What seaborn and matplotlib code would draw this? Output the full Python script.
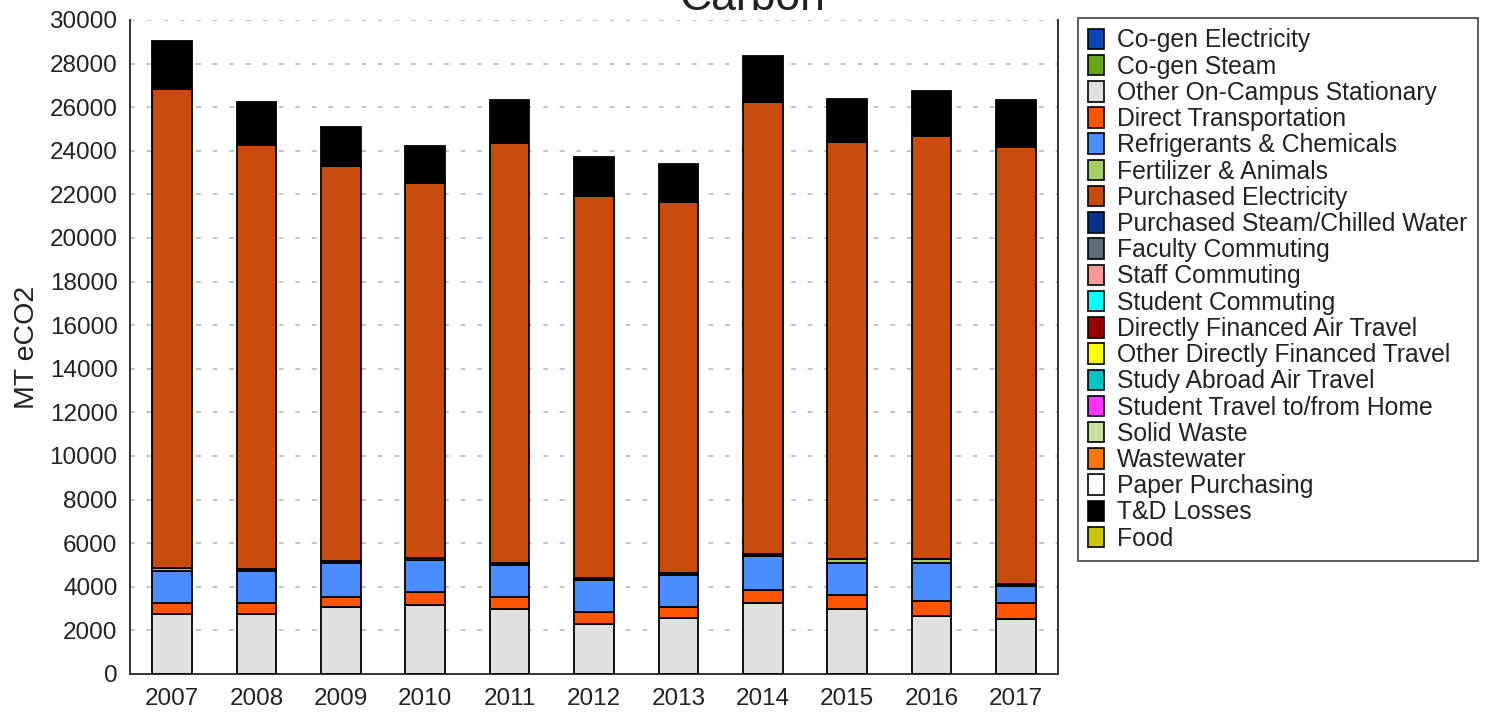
import matplotlib
matplotlib.use("Agg")
import matplotlib.pyplot as plt
from matplotlib.patches import Patch
import numpy as np
import seaborn as sns

# ── Data (MT eCO2) ──────────────────────────────────────────────────────────
years = ["2007", "2008", "2009", "2010", "2011", "2012",
         "2013", "2014", "2015", "2016", "2017"]

other_stationary = [2750, 2750, 3090, 3165, 3000, 2295, 2555, 3270, 3000, 2660, 2510]
direct_transport = [520, 520, 430, 610, 520, 550, 535, 580, 610, 705, 765]
refrigerants = [1470, 1455, 1560, 1450, 1470, 1470, 1450, 1560, 1470, 1710, 765]
fertilizer = [100, 105, 105, 105, 90, 90, 105, 90, 185, 185, 90]
purchased_elec = [21995, 19420, 18135, 17187, 19266, 17523, 17019, 20720, 19157, 19419, 20045]
td_losses = [2215, 1970, 1789, 1712, 1973, 1804, 1715, 2139, 1973, 2064, 2141]

categories = [
    "Co-gen Electricity", "Co-gen Steam", "Other On-Campus Stationary",
    "Direct Transportation", "Refrigerants & Chemicals", "Fertilizer & Animals",
    "Purchased Electricity", "Purchased Steam/Chilled Water", "Faculty Commuting",
    "Staff Commuting", "Student Commuting", "Directly Financed Air Travel",
    "Other Directly Financed Travel", "Study Abroad Air Travel",
    "Student Travel to/from Home", "Solid Waste", "Wastewater",
    "Paper Purchasing", "T&D Losses", "Food",
]
colors = [
    "#0b46b8", "#6aa51a", "#e0e0e0", "#ff5500", "#4b8dff", "#a3cf62",
    "#c84d0c", "#08318a", "#5f6e7d", "#ff9999", "#00ffff", "#990000",
    "#ffff00", "#00c4c4", "#ff33ff", "#c9e0a0", "#ff7700", "#ffffff",
    "#000000", "#c8c800",
]
# categories with non-zero emissions (others are empty in every year)
series = {
    "Other On-Campus Stationary": other_stationary,
    "Direct Transportation": direct_transport,
    "Refrigerants & Chemicals": refrigerants,
    "Fertilizer & Animals": fertilizer,
    "Purchased Electricity": purchased_elec,
    "T&D Losses": td_losses,
}

# ── Style ────────────────────────────────────────────────────────────────────
sns.set_theme(style="white")
plt.rcParams["font.family"] = ["Liberation Sans", "DejaVu Sans"]
plt.rcParams["text.color"] = "#222222"

fig = plt.figure(figsize=(14.9, 7.15), dpi=100)
ax = fig.add_axes([130 / 1490, 41 / 715, 928 / 1490, 654 / 715])

# ── Stacked bars ─────────────────────────────────────────────────────────────
bottom = np.zeros(len(years))
for name, col in zip(categories, colors):
    if name not in series:
        continue
    vals = np.array(series[name], dtype=float)
    sns.barplot(x=years, y=vals, bottom=bottom, color=col, saturation=1,
                width=0.47, edgecolor="black", linewidth=1.3,
                errorbar=None, ax=ax, zorder=3)
    bottom += vals

# ── Axes ─────────────────────────────────────────────────────────────────────
ax.set_ylim(0, 30000)
ax.set_xlim(-0.5, len(years) - 0.5)
ax.set_yticks(np.arange(0, 30001, 2000))
ax.yaxis.grid(True, color="#c4c4c4", linestyle=(0, (2.5, 6)), linewidth=1.4, zorder=0)
ax.xaxis.grid(False)
ax.set_axisbelow(True)

ax.spines["top"].set_visible(False)
for s in ("left", "bottom", "right"):
    ax.spines[s].set_color("#333333")
    ax.spines[s].set_linewidth(1.4)

ax.tick_params(axis="y", direction="inout", length=12, width=1.2,
               color="#333333", labelsize=17.5, labelcolor="#222222", pad=3)
ax.tick_params(axis="x", which="major", length=0, labelsize=17.5,
               labelcolor="#222222", pad=10)
ax.set_xticks(np.arange(-0.5, len(years), 1), minor=True)
ax.tick_params(axis="x", which="minor", direction="inout", length=13,
               width=1.2, color="#333333")

ax.set_xlabel("")
ax.set_ylabel("MT eCO2", fontsize=20.5, color="#222222")
ax.yaxis.set_label_coords(-0.097, 0.5)

# title sits mostly above the canvas, as in the reference
fig.text(753 / 1490, 1 - 10 / 715, "Carbon", ha="center", va="baseline",
         fontsize=32, color="#222222")

# ── Legend ───────────────────────────────────────────────────────────────────
handles = [Patch(facecolor=c, edgecolor="black", linewidth=1.2, label=n)
           for n, c in zip(categories, colors)]
leg = fig.legend(handles=handles, loc="upper left",
                 bbox_to_anchor=(1078 / 1490, 1 - 18 / 715),
                 fontsize=17.8, frameon=True, fancybox=False,
                 handlelength=0.62, handleheight=0.9, handletextpad=0.55,
                 labelspacing=0.09, borderpad=0.42, borderaxespad=0)
leg.get_frame().set_edgecolor("#333333")
leg.get_frame().set_linewidth(1.4)

fig.savefig("out.png", dpi=100)
